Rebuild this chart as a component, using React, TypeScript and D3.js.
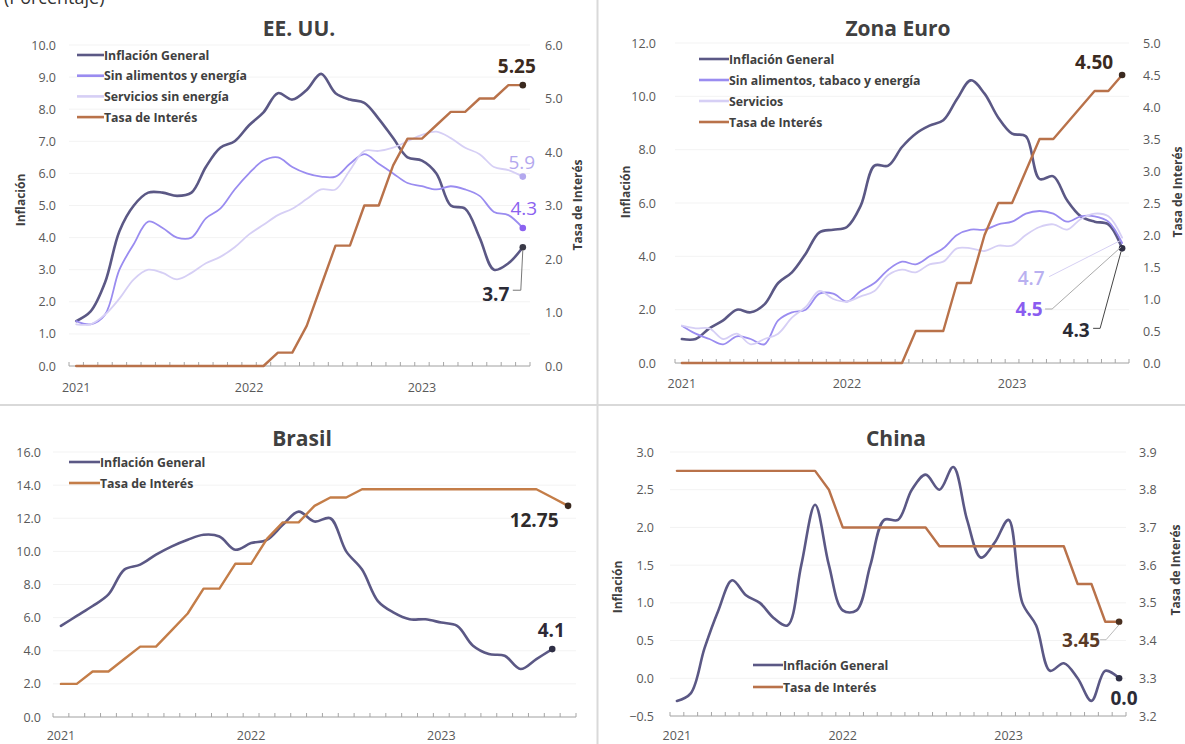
import React from 'react';
import * as d3 from 'd3';

// ---------- categories ----------
const months = [
  '2021-01','2021-02','2021-03','2021-04','2021-05','2021-06','2021-07','2021-08','2021-09','2021-10','2021-11','2021-12',
  '2022-01','2022-02','2022-03','2022-04','2022-05','2022-06','2022-07','2022-08','2022-09','2022-10','2022-11','2022-12',
  '2023-01','2023-02','2023-03','2023-04','2023-05','2023-06','2023-07','2023-08','2023-09',
];
const yearLabels = ['2021', '2022', '2023'];
const yearLabelIndex = [0, 12, 24];

// ---------- EE. UU. (Jan 2021 - Aug 2023) ----------
const usGeneral = [1.4,1.7,2.6,4.2,5.0,5.4,5.4,5.3,5.4,6.2,6.8,7.0,7.5,7.9,8.5,8.3,8.6,9.1,8.5,8.3,8.2,7.7,7.1,6.5,6.4,6.0,5.0,4.9,4.0,3.0,3.2,3.7];
const usCore = [1.4,1.3,1.6,3.0,3.8,4.5,4.3,4.0,4.0,4.6,4.9,5.5,6.0,6.4,6.5,6.2,6.0,5.9,5.9,6.3,6.6,6.3,6.0,5.7,5.6,5.5,5.6,5.5,5.3,4.8,4.7,4.3];
const usServices = [1.3,1.3,1.6,2.1,2.7,3.0,2.9,2.7,2.9,3.2,3.4,3.7,4.1,4.4,4.7,4.9,5.2,5.5,5.5,6.1,6.7,6.7,6.8,7.0,7.2,7.3,7.1,6.8,6.6,6.2,6.1,5.9];
const usRate = [0,0,0,0,0,0,0,0,0,0,0,0,0,0,0.25,0.25,0.75,1.5,2.25,2.25,3.0,3.0,3.75,4.25,4.25,4.5,4.75,4.75,5.0,5.0,5.25,5.25];
const usLeftTicks = [0,1,2,3,4,5,6,7,8,9,10];
const usRightTicks = [0,1,2,3,4,5,6];

// ---------- Zona Euro (Jan 2021 - Sep 2023) ----------
const euGeneral = [0.9,0.9,1.3,1.6,2.0,1.9,2.2,3.0,3.4,4.1,4.9,5.0,5.1,5.9,7.4,7.4,8.1,8.6,8.9,9.1,9.9,10.6,10.1,9.2,8.6,8.5,6.9,7.0,6.1,5.5,5.3,5.2,4.3];
const euCore = [1.4,1.1,0.9,0.7,1.0,0.9,0.7,1.6,1.9,2.0,2.6,2.6,2.3,2.7,3.0,3.5,3.8,3.7,4.0,4.3,4.8,5.0,5.0,5.2,5.3,5.6,5.7,5.6,5.3,5.5,5.5,5.3,4.5];
const euServices = [1.4,1.3,1.3,0.9,1.1,0.7,0.9,1.1,1.7,2.1,2.7,2.4,2.3,2.5,2.7,3.3,3.5,3.4,3.7,3.8,4.3,4.3,4.2,4.4,4.4,4.8,5.1,5.2,5.0,5.4,5.6,5.5,4.7];
const euRate = [0,0,0,0,0,0,0,0,0,0,0,0,0,0,0,0,0,0.5,0.5,0.5,1.25,1.25,2.0,2.5,2.5,3.0,3.5,3.5,3.75,4.0,4.25,4.25,4.5];
const euLeftTicks = [0,2,4,6,8,10,12];
const euRightTicks = [0,0.5,1,1.5,2,2.5,3,3.5,4,4.5,5];

// ---------- Brasil ----------
const brGeneral = [5.5,6.1,6.7,7.4,8.9,9.2,9.8,10.3,10.7,11.0,10.9,10.1,10.5,10.7,11.6,12.4,11.8,12.0,10.0,8.9,7.0,6.3,5.9,5.9,5.7,5.5,4.3,3.8,3.7,2.9,3.5,4.1];
const brRate = [2.0,2.0,2.75,2.75,3.5,4.25,4.25,5.25,6.25,7.75,7.75,9.25,9.25,10.75,11.75,11.75,12.75,13.25,13.25,13.75,13.75,13.75,13.75,13.75,13.75,13.75,13.75,13.75,13.75,13.75,13.75,13.25,12.75];
const brLeftTicks = [0,2,4,6,8,10,12,14,16];

// ---------- China ----------
const cnGeneral = [-0.3,-0.2,0.4,0.9,1.3,1.1,1.0,0.8,0.7,1.5,2.3,1.5,0.9,0.9,1.5,2.1,2.1,2.5,2.7,2.5,2.8,2.1,1.6,1.8,2.1,1.0,0.7,0.1,0.2,0.0,-0.3,0.1,0.0];
const cnRate = [3.85,3.85,3.85,3.85,3.85,3.85,3.85,3.85,3.85,3.85,3.85,3.8,3.7,3.7,3.7,3.7,3.7,3.7,3.7,3.65,3.65,3.65,3.65,3.65,3.65,3.65,3.65,3.65,3.65,3.55,3.55,3.45,3.45];
const cnLeftTicks = [-0.5,0,0.5,1,1.5,2,2.5,3];
const cnRightTicks = [3.2,3.3,3.4,3.5,3.6,3.7,3.8,3.9];

// ---------- styles ----------
const FONT = "'Open Sans', 'Segoe UI', sans-serif";
const C_GEN = '#5b5885';
const C_CORE = '#9a8cf0';
const C_SERV = '#d6cff5';
const C_RATE = '#b9724a';
const C_RATE2 = '#c47d48';
const C_TICK = '#595959';
const C_TEXT = '#404040';

const smooth = d3.curveCatmullRom.alpha(0.5);

type Series = { name: string; values: number[]; color: string; width: number; axis: 'L' | 'R'; smooth: boolean; dot?: string };
type Ann = { s: number; text: string; dx: number; dy: number; color: string; weight: number; size: number; leader?: number[][]; leaderColor?: string };
type Cfg = {
  title: string; tx: number; ty: number;
  n: number; x0: number; x1: number; yTop: number; yBot: number; yearDy: number;
  lDom: number[]; rDom?: number[]; lTicks: number[]; rTicks?: number[];
  lLabX: number; rLabX?: number;
  lTitle?: number[]; rTitle?: number[];
  series: Series[];
  legend: { x: number; y: number; dy: number; len: number };
  anns: Ann[];
};

const panels: Cfg[] = [
  {
    title: 'EE. UU.', tx: 299, ty: 28,
    n: 32, x0: 69, x1: 530, yTop: 45, yBot: 366, yearDy: 21,
    lDom: [0, 10], rDom: [0, 6], lTicks: usLeftTicks, rTicks: usRightTicks,
    lLabX: 56, rLabX: 545, lTitle: [20, 200], rTitle: [577, 205],
    series: [
      { name: 'Inflación General', values: usGeneral, color: C_GEN, width: 2.6, axis: 'L', smooth: true, dot: '#3a3a48' },
      { name: 'Sin alimentos y energía', values: usCore, color: C_CORE, width: 1.8, axis: 'L', smooth: true, dot: '#8b62f0' },
      { name: 'Servicios sin energía', values: usServices, color: C_SERV, width: 1.8, axis: 'L', smooth: true, dot: '#b3a8ee' },
      { name: 'Tasa de Interés', values: usRate, color: C_RATE, width: 2.4, axis: 'R', smooth: false, dot: '#3b2a20' },
    ],
    legend: { x: 77, y: 55, dy: 20.7, len: 27 },
    anns: [
      { s: 3, text: '5.25', dx: -6, dy: -19, color: '#3b2a20', weight: 700, size: 19 },
      { s: 2, text: '5.9', dx: -1, dy: -15, color: '#b3a8ee', weight: 400, size: 19 },
      { s: 1, text: '4.3', dx: 1, dy: -20, color: '#8b62f0', weight: 400, size: 19 },
      { s: 0, text: '3.7', dx: -27, dy: 47, color: '#2b2b36', weight: 700, size: 19, leader: [[-10, 43], [-2, 43], [0, 3]], leaderColor: '#777' },
    ],
  },
  {
    title: 'Zona Euro', tx: 898, ty: 28,
    n: 33, x0: 675, x1: 1129, yTop: 43, yBot: 363, yearDy: 20,
    lDom: [0, 12], rDom: [0, 5], lTicks: euLeftTicks, rTicks: euRightTicks,
    lLabX: 656, rLabX: 1143, lTitle: [625, 192], rTitle: [1177, 192],
    series: [
      { name: 'Inflación General', values: euGeneral, color: C_GEN, width: 2.6, axis: 'L', smooth: true, dot: '#2f2f45' },
      { name: 'Sin alimentos, tabaco y energía', values: euCore, color: C_CORE, width: 1.8, axis: 'L', smooth: true },
      { name: 'Servicios', values: euServices, color: C_SERV, width: 1.8, axis: 'L', smooth: true },
      { name: 'Tasa de Interés', values: euRate, color: C_RATE, width: 2.4, axis: 'R', smooth: false, dot: '#3b2a20' },
    ],
    legend: { x: 699, y: 59, dy: 21, len: 30 },
    anns: [
      { s: 3, text: '4.50', dx: -28, dy: -13, color: '#3b2a20', weight: 700, size: 19 },
      { s: 2, text: '4.7', dx: -91, dy: 40, color: '#b9b0f0', weight: 600, size: 19, leader: [[-73, 39], [-2, 3]], leaderColor: '#d6d0f3' },
      { s: 1, text: '4.5', dx: -93, dy: 66, color: '#8a5cf0', weight: 700, size: 19, leader: [[-77, 66], [-70, 66], [-1, 4]], leaderColor: '#aaa' },
      { s: 0, text: '4.3', dx: -46, dy: 82, color: '#2b2b36', weight: 700, size: 19, leader: [[-29, 80], [-22, 80], [-1, 3]], leaderColor: '#444' },
    ],
  },
  {
    title: 'Brasil', tx: 302, ty: 438,
    n: 33, x0: 53, x1: 576, yTop: 452, yBot: 717, yearDy: 18,
    lDom: [0, 16], lTicks: brLeftTicks,
    lLabX: 41,
    series: [
      { name: 'Inflación General', values: brGeneral, color: C_GEN, width: 2.6, axis: 'L', smooth: true, dot: '#2f2f45' },
      { name: 'Tasa de Interés', values: brRate, color: C_RATE2, width: 2.4, axis: 'L', smooth: false, dot: '#3b2a20' },
    ],
    legend: { x: 69, y: 462, dy: 21, len: 31 },
    anns: [
      { s: 1, text: '12.75', dx: -34, dy: 14, color: '#2e2a2a', weight: 700, size: 19 },
      { s: 0, text: '4.1', dx: -1, dy: -19, color: '#2e2a36', weight: 700, size: 19 },
    ],
  },
  {
    title: 'China', tx: 896, ty: 438,
    n: 33, x0: 670, x1: 1126, yTop: 452, yBot: 716, yearDy: 19,
    lDom: [-0.5, 3], rDom: [3.2, 3.9], lTicks: cnLeftTicks, rTicks: cnRightTicks,
    lLabX: 654, rLabX: 1139, lTitle: [617, 587], rTitle: [1175, 570],
    series: [
      { name: 'Inflación General', values: cnGeneral, color: C_GEN, width: 2.6, axis: 'L', smooth: true, dot: '#2f2f45' },
      { name: 'Tasa de Interés', values: cnRate, color: C_RATE, width: 2.4, axis: 'R', smooth: false, dot: '#4a3020' },
    ],
    legend: { x: 753, y: 665, dy: 22, len: 30 },
    anns: [
      { s: 1, text: '3.45', dx: -38, dy: 18, color: '#5a3a26', weight: 700, size: 19, leader: [[-19, 18], [-13, 18], [0, 3]], leaderColor: '#bbb' },
      { s: 0, text: '0.0', dx: 5, dy: 20, color: '#2b2b36', weight: 700, size: 19 },
    ],
  },
];

function Panel({ cfg }: { cfg: Cfg }) {
  const cats = months.slice(0, cfg.n);
  const x = d3.scaleBand<string>().domain(cats).range([cfg.x0, cfg.x1]).paddingInner(0).paddingOuter(0);
  const step = x.step();
  const cx = (i: number) => (x(cats[i]) as number) + x.bandwidth() / 2;
  const yL = d3.scaleLinear().domain(cfg.lDom).range([cfg.yBot, cfg.yTop]);
  const yR = cfg.rDom ? d3.scaleLinear().domain(cfg.rDom).range([cfg.yBot, cfg.yTop]) : yL;
  const fmt = d3.format('.1f');
  const tickXs = d3.range(cfg.n + 1).map((i) => cfg.x0 + i * step);

  const paths = cfg.series.map((s) => {
    const sc = s.axis === 'L' ? yL : yR;
    const gen = d3.line<number>().x((_, i) => cx(i)).y((d) => sc(d)).curve(s.smooth ? smooth : d3.curveLinear);
    const last = s.values.length - 1;
    return { s, d: gen(s.values) || '', ex: cx(last), ey: sc(s.values[last]) };
  });

  return (
    <g>
      <text x={cfg.tx} y={cfg.ty} textAnchor="middle" dominantBaseline="central" fontFamily={FONT} fontWeight={700} fontSize={21} fill={C_TEXT}>{cfg.title}</text>
      {cfg.lTicks.map((t) => (
        <line key={'g' + t} x1={cfg.x0} x2={cfg.x1} y1={yL(t)} y2={yL(t)} stroke="#f3f3f3" strokeWidth={1} />
      ))}
      {cfg.lTicks.map((t) => (
        <text key={'l' + t} x={cfg.lLabX} y={yL(t)} textAnchor="end" dominantBaseline="central" fontFamily={FONT} fontSize={12.5} fill={C_TICK}>{fmt(t)}</text>
      ))}
      {cfg.rTicks && cfg.rTicks.map((t) => (
        <text key={'r' + t} x={cfg.rLabX} y={yR(t)} textAnchor="start" dominantBaseline="central" fontFamily={FONT} fontSize={12.5} fill={C_TICK}>{fmt(t)}</text>
      ))}
      <line x1={cfg.x0} x2={cfg.x1} y1={cfg.yBot} y2={cfg.yBot} stroke="#a6a6a6" strokeWidth={1} />
      {tickXs.map((tx, i) => (
        <line key={'t' + i} x1={tx} x2={tx} y1={cfg.yBot - 4} y2={cfg.yBot} stroke="#a6a6a6" strokeWidth={1} />
      ))}
      {yearLabels.map((yl, k) => (
        <text key={yl} x={cx(yearLabelIndex[k])} y={cfg.yBot + cfg.yearDy} textAnchor="middle" dominantBaseline="central" fontFamily={FONT} fontSize={12.5} fill={C_TICK}>{yl}</text>
      ))}
      {cfg.lTitle && (
        <text transform={`translate(${cfg.lTitle[0]},${cfg.lTitle[1]}) rotate(-90)`} textAnchor="middle" dominantBaseline="central" fontFamily={FONT} fontWeight={700} fontSize={12} fill={C_TEXT}>Inflación</text>
      )}
      {cfg.rTitle && (
        <text transform={`translate(${cfg.rTitle[0]},${cfg.rTitle[1]}) rotate(-90)`} textAnchor="middle" dominantBaseline="central" fontFamily={FONT} fontWeight={700} fontSize={12} fill={C_TEXT}>Tasa de Interés</text>
      )}
      {paths.map((p) => (
        <path key={p.s.name} d={p.d} fill="none" stroke={p.s.color} strokeWidth={p.s.width} strokeLinejoin="round" strokeLinecap="round" />
      ))}
      {paths.map((p) => p.s.dot && (
        <circle key={'dot' + p.s.name} cx={p.ex} cy={p.ey} r={3.3} fill={p.s.dot} />
      ))}
      {cfg.series.map((s, i) => (
        <g key={'lg' + s.name}>
          <line x1={cfg.legend.x} x2={cfg.legend.x + cfg.legend.len} y1={cfg.legend.y + i * cfg.legend.dy} y2={cfg.legend.y + i * cfg.legend.dy} stroke={s.color} strokeWidth={2.6} />
          <text x={cfg.legend.x + cfg.legend.len} y={cfg.legend.y + i * cfg.legend.dy} dominantBaseline="central" fontFamily={FONT} fontWeight={700} fontSize={12.3} fill={C_TEXT}>{s.name}</text>
        </g>
      ))}
      {cfg.anns.map((a) => {
        const p = paths[a.s];
        return (
          <g key={'a' + a.text + a.s}>
            {a.leader && (
              <polyline points={a.leader.map((q) => `${p.ex + q[0]},${p.ey + q[1]}`).join(' ')} fill="none" stroke={a.leaderColor} strokeWidth={1} />
            )}
            <text x={p.ex + a.dx} y={p.ey + a.dy} textAnchor="middle" dominantBaseline="central" fontFamily={FONT} fontWeight={a.weight} fontSize={a.size} fill={a.color}>{a.text}</text>
          </g>
        );
      })}
    </g>
  );
}

export default function App() {
  return (
    <svg width={1185} height={744} style={{ position: 'absolute', left: 0, top: 0, background: '#fff' }}>
      <rect x={0} y={0} width={1185} height={744} fill="#fff" />
      <text x={4} y={4} fontFamily={FONT} fontSize={18} fill="#333">(Porcentaje)</text>
      <line x1={597.5} x2={597.5} y1={0} y2={744} stroke="#d9d9d9" strokeWidth={2} />
      <line x1={0} x2={1185} y1={405} y2={405} stroke="#d9d9d9" strokeWidth={2} />
      {panels.map((p) => (
        <Panel key={p.title} cfg={p} />
      ))}
    </svg>
  );
}
